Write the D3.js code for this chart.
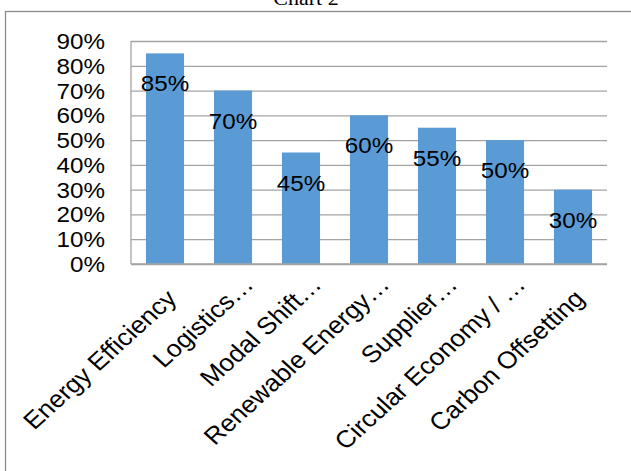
<!DOCTYPE html>
<html>
<head>
<meta charset="utf-8">
<script src="https://cdn.jsdelivr.net/npm/d3@7"></script>
<style>
  html, body { margin: 0; padding: 0; background: #fff; }
  svg { display: block; }
</style>
</head>
<body>
<svg id="chart" width="631" height="471"></svg>
<script>
const title = "Chart 2";
const categories = [
  "Energy Efficiency",
  "Logistics…",
  "Modal Shift…",
  "Renewable Energy…",
  "Supplier…",
  "Circular Economy / …",
  "Carbon Offsetting"
];
const values = [0.85, 0.70, 0.45, 0.60, 0.55, 0.50, 0.30];
const yTicks = [0, 0.1, 0.2, 0.3, 0.4, 0.5, 0.6, 0.7, 0.8, 0.9];

const svg = d3.select("#chart");
const W = 631, H = 471;
const plot = { left: 131, right: 607, top: 41, bottom: 264 };
const sx = 1.1; // horizontal stretch of text seen in reference
const sans = "'Liberation Sans', Arial, sans-serif";

svg.append("rect").attr("width", W).attr("height", H).attr("fill", "#fff");

// outer frame (extends beyond view on right/bottom)
svg.append("rect")
  .attr("x", 5.5).attr("y", 11.5)
  .attr("width", 700).attr("height", 600)
  .attr("fill", "none").attr("stroke", "#8c8c8c").attr("stroke-width", 1.3);

// title
svg.append("text")
  .attr("transform", `translate(306,5) scale(${sx},1)`)
  .attr("text-anchor", "middle")
  .attr("font-family", "'Liberation Serif', 'Times New Roman', serif")
  .attr("font-size", 20)
  .attr("fill", "#000")
  .text(title);

const x = d3.scaleBand().domain(categories).range([plot.left, plot.right]).paddingInner(0.44).paddingOuter(0.22);
const y = d3.scaleLinear().domain([0, 0.9]).range([plot.bottom, plot.top]);

// gridlines
const yAxis = d3.axisLeft(y).tickValues(yTicks).tickSize(-(plot.right - plot.left)).tickFormat("");
const gy = svg.append("g").attr("transform", `translate(${plot.left},0)`).call(yAxis);
gy.select(".domain").remove();
gy.selectAll(".tick line").attr("stroke", "#a3a3a3").attr("stroke-width", 1.3);

// left axis line
svg.append("line")
  .attr("x1", plot.left).attr("x2", plot.left)
  .attr("y1", plot.top).attr("y2", plot.bottom)
  .attr("stroke", "#a3a3a3").attr("stroke-width", 1.3);

// y labels
const fmt = d3.format(".0%");
svg.append("g").selectAll("text").data(yTicks).join("text")
  .attr("transform", d => `translate(105,${y(d) + 8}) scale(${sx},1)`)
  .attr("text-anchor", "end")
  .attr("font-family", sans).attr("font-size", 22).attr("fill", "#000")
  .text(d => fmt(d));

// bars
svg.append("g").selectAll("rect").data(values).join("rect")
  .attr("x", (d, i) => x(categories[i]))
  .attr("width", x.bandwidth())
  .attr("y", d => y(d))
  .attr("height", d => y(0) - y(d))
  .attr("fill", "#5b9bd5");

// redraw bottom axis line on top
svg.append("line")
  .attr("x1", plot.left).attr("x2", plot.right)
  .attr("y1", plot.bottom).attr("y2", plot.bottom)
  .attr("stroke", "#a3a3a3").attr("stroke-width", 1.3);

// data labels
svg.append("g").selectAll("text").data(values).join("text")
  .attr("transform", (d, i) => `translate(${x(categories[i]) + x.bandwidth() / 2},${y(d) + 38}) scale(${sx},1)`)
  .attr("text-anchor", "middle")
  .attr("font-family", sans).attr("font-size", 22).attr("fill", "#000")
  .text(d => fmt(d));

// category labels, rotated
svg.append("g").selectAll("text").data(categories).join("text")
  .attr("transform", d => {
    const cx = x(d) + x.bandwidth() / 2;
    const trunc = d.endsWith("…");
    const ax = cx + (trunc ? 22 : 13);
    const ay = trunc ? 286 : 300;
    return `translate(${ax},${ay}) scale(${sx},1) rotate(-45)`;
  })
  .attr("text-anchor", "end")
  .attr("font-family", sans).attr("font-size", 24).attr("fill", "#000")
  .text(d => d);
</script>
</body>
</html>
